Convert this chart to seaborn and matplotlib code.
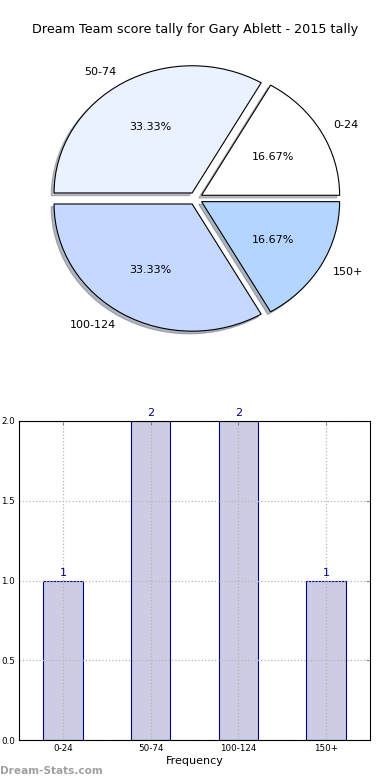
import matplotlib
matplotlib.use('Agg')
import matplotlib.pyplot as plt
import seaborn as sns
import pandas as pd

categories = ['0-24', '50-74', '100-124', '150+']
counts = [1, 2, 2, 1]
pie_colors = ['#ffffff', '#eaf1ff', '#c5d8ff', '#b3d5ff']
title = "Dream Team score tally for Gary Ablett - 2015 tally"
y_ticks = [0.0, 0.5, 1.0, 1.5, 2.0]
y_tick_labels = ['0.0', '0.5', '1.0', '1.5', '2.0']

sns.set_style('white')
plt.rcParams['font.family'] = ['DejaVu Sans']
plt.rcParams['text.color'] = 'black'
plt.rcParams['axes.labelcolor'] = 'black'
plt.rcParams['xtick.color'] = 'black'
plt.rcParams['ytick.color'] = 'black'

fig = plt.figure(figsize=(3.9, 7.8), dpi=100)

# Pie
ax1 = fig.add_axes([0.059, 0.5417, 0.885, 0.4077])
wedges, texts, autotexts = ax1.pie(
    counts, labels=categories, colors=pie_colors, explode=[0.05] * 4,
    shadow={'ox': -0.015, 'oy': -0.015, 'shade': 0.5}, autopct='%.2f%%', startangle=0,
    wedgeprops=dict(edgecolor='black', linewidth=0.8),
    textprops=dict(fontsize=8, color='black'))
ax1.set_aspect('auto')
ax1.set_xlim(-1.25, 1.25)
ax1.set_ylim(-1.25, 1.25)
fig.text(0.5, 1 - 30 / 780, title, ha='center', va='center', fontsize=9.2,
         color='black')

# Bars
ax2 = fig.add_axes([19 / 390, 40 / 780, 351 / 390, 319 / 780])
df = pd.DataFrame({'range': categories, 'freq': counts})
sns.barplot(data=df, x='range', y='freq', ax=ax2, color='#ccccE5',
            edgecolor='#000080', linewidth=0.8, width=0.45, saturation=1,
            errorbar=None)
ax2.set_xlim(-0.5, 3.5)
ax2.set_ylim(0, 2)
ax2.set_yticks(y_ticks)
ax2.set_yticklabels(y_tick_labels)
ax2.tick_params(direction='in', top=True, right=True, labelsize=6.3,
                length=3, width=0.6, color='#777777', pad=3)
ax2.grid(True, linestyle=':', color='#b5b5b5', linewidth=0.9)
ax2.set_axisbelow(False)
for s in ax2.spines.values():
    s.set_color('black')
    s.set_linewidth(0.8)
    s.set_zorder(5)
ax2.set_xlabel('Frequency', fontsize=8, labelpad=2)
ax2.set_ylabel('')
ax2.bar_label(ax2.containers[0], fmt='%d', padding=2, color='#000080', fontsize=8)

fig.text(0.0, 1 - 771 / 780, 'Dream-Stats.com', color='#a0a0a0', fontsize=7.6,
         fontweight='bold', va='center', ha='left')

fig.savefig('out.png', dpi=100)
